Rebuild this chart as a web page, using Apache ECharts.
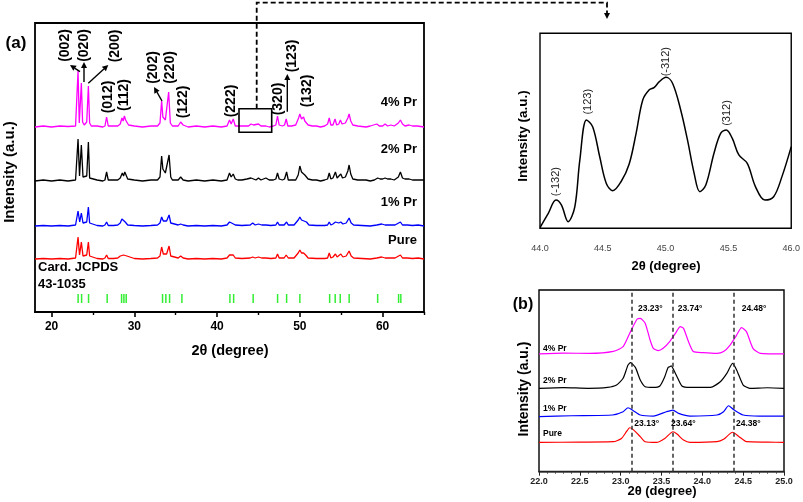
<!DOCTYPE html>
<html><head><meta charset="utf-8">
<script src="https://cdn.jsdelivr.net/npm/echarts@6/dist/echarts.min.js"></script>
<style>html,body{margin:0;padding:0;background:#fff}#c{width:803px;height:502px}</style>
</head><body><div id="c"></div>
<script>
const FONT = 'Arial, "Liberation Sans", sans-serif';

// ---------- Panel (a): full XRD patterns, [2theta, intensity a.u.] ----------
const xrd4Pr = [[18,0],[19,1],[20,0],[21,1],[22,0.5],[22.9,1],[23.05,3],[23.2,56],[23.35,4],[23.45,6],[23.6,44],[23.75,5],[23.95,2],[24.25,5],[24.45,41],[24.6,4],[24.8,1],[25.5,1],[26.2,0],[26.45,1],[26.65,10],[26.85,1],[27.5,1],[28.0,1],[28.3,3],[28.5,9],[28.65,6],[28.8,11],[28.95,7],[29.1,8],[29.3,2],[30,1],[31,0],[32,1],[32.8,1],[33.1,4],[33.3,26],[33.45,10],[33.6,9],[33.75,7],[33.9,9],[34.15,35],[34.35,4],[34.6,1],[35.3,1],[35.6,5],[35.9,2],[36.5,0],[37.5,1],[38.5,0],[39.5,1],[40.5,0],[41.2,1],[41.5,7],[41.7,3],[41.95,8],[42.2,1],[43,1],[43.8,1],[44.1,3],[44.4,2],[44.6,0],[45,3],[45.3,1],[45.5,3],[45.9,1],[46.3,0],[46.8,1],[47.1,2],[47.3,11],[47.5,2],[47.9,1],[48.15,2],[48.35,8],[48.55,1],[49,1],[49.5,2],[49.85,9],[50.0,13],[50.2,8],[50.45,10],[50.6,6],[50.8,7],[51,2],[51.5,1],[52,1],[52.5,0],[53,1],[53.35,3],[53.55,9],[53.75,2],[54.0,2],[54.25,8],[54.45,2],[54.7,3],[54.9,7],[55.1,3],[55.5,4],[55.8,9],[55.95,13],[56.15,6],[56.4,2],[57,1],[58,0],[58.5,1],[59.3,3],[59.6,1],[60,1],[60.3,3],[60.6,1],[61,2],[61.4,1],[61.9,4],[62.15,7],[62.4,3],[62.7,1],[63.2,2],[63.6,1],[64.2,1],[65,0]];
const xrd2Pr = [[18,0],[19,1],[20,0],[21,1],[22,0],[22.9,1],[23.05,3],[23.2,42],[23.38,5],[23.6,36],[23.8,4],[24.0,2],[24.25,5],[24.45,39],[24.6,3],[24.8,1],[25.5,1],[26.2,0],[26.45,1],[26.65,9],[26.85,1],[27.5,1],[28,1],[28.3,3],[28.55,8],[28.7,5],[28.85,9],[29.0,6],[29.2,2],[30,1],[31,0],[32,1],[32.8,1],[33.1,4],[33.3,25],[33.45,12],[33.6,14],[33.75,8],[33.95,10],[34.2,26],[34.4,4],[34.6,1],[35.3,1],[35.6,4],[35.9,1],[36.5,0],[37.5,1],[38.5,0],[39.5,1],[40.5,0],[41.2,1],[41.5,8],[41.7,4],[41.95,7],[42.2,2],[42.5,1],[43,1],[43.6,2],[44.1,3],[44.4,2],[44.7,1],[45,3],[45.3,1],[45.6,2],[45.9,3],[46.3,1],[46.8,1],[47.1,2],[47.3,8],[47.5,2],[47.9,1],[48.15,2],[48.4,9],[48.6,1],[49,1],[49.5,1],[49.8,6],[50.0,15],[50.2,9],[50.4,10],[50.6,6],[50.8,7],[51,2],[51.5,1],[52,1],[52.5,0],[53,1],[53.35,2],[53.55,8],[53.75,2],[54.0,3],[54.3,9],[54.5,3],[54.7,4],[54.95,7],[55.15,3],[55.5,4],[55.8,10],[55.95,16],[56.15,7],[56.4,2],[57,1],[58,1],[58.5,0],[59.0,1],[59.4,3],[59.7,2],[60,2],[60.3,3],[60.6,2],[61,2],[61.4,1],[61.9,4],[62.15,9],[62.4,3],[62.7,2],[63.2,2],[63.6,1],[64.2,1],[65,1]];
const xrd1Pr = [[18,0],[19,0.5],[20,0],[21,0.5],[22,0],[22.9,1],[23.05,2],[23.2,15],[23.4,4],[23.6,13],[23.8,3],[24.0,1],[24.25,4],[24.45,19],[24.6,3],[24.8,1],[25.5,0.5],[26.2,0],[26.45,1],[26.65,4],[26.85,0.5],[27.5,0.5],[28.0,1],[28.3,3],[28.5,7],[28.7,5],[28.9,4],[29.2,1],[30,0.5],[31,0],[32,0.5],[32.8,1],[33.1,3],[33.3,9],[33.5,5],[33.7,6],[33.9,5],[34.2,11],[34.4,3],[34.6,1],[35.3,1],[35.6,2],[35.9,1],[36.5,0],[37.5,0.5],[38.5,0],[39.5,0.5],[40.5,0],[41.2,1],[41.5,4],[41.75,3],[41.95,4],[42.2,1],[43,0.5],[44.0,1],[44.3,3],[44.6,1],[45,2],[45.4,1],[45.9,1],[46.5,0.5],[47.1,1],[47.3,4],[47.5,1],[48.1,1],[48.4,4],[48.6,1],[49.3,1],[49.8,6],[50.0,9],[50.2,6],[50.5,5],[50.8,4],[51.1,1],[52,0.5],[53,0.5],[53.35,1],[53.55,4],[53.75,1],[54.0,2],[54.3,4],[54.5,2],[54.7,3],[54.95,4],[55.2,2],[55.6,3],[55.95,8],[56.2,3],[56.5,1],[57.5,0.5],[58.5,0],[59.3,1],[59.9,2],[60.3,1],[61,1],[61.5,1],[62.15,4],[62.4,1],[63,1],[63.6,0.5],[64.3,1],[65,0]];
const xrdPure = [[18,0],[19,0.5],[20,0],[21,0.5],[22,0],[22.9,1],[23.05,2],[23.2,22],[23.38,4],[23.6,17],[23.8,3],[24.0,1],[24.25,4],[24.45,17],[24.6,3],[24.8,1],[25.5,0.5],[26.2,0],[26.45,1],[26.65,4],[26.85,0.5],[27.5,0.5],[28.0,1],[28.3,3],[28.5,5],[28.7,4],[28.9,5],[29.1,3],[29.3,1],[30,0.5],[31,0],[32,0.5],[32.8,1],[33.1,3],[33.3,12],[33.5,5],[33.7,6],[33.9,5],[34.2,13],[34.4,3],[34.6,1],[35.3,1],[35.6,3],[35.9,1],[36.5,0],[37.5,0.5],[38.5,0],[39.5,0.5],[40.5,0],[41.2,1],[41.5,4],[41.7,3],[41.95,4],[42.2,1],[43,0.5],[44.0,1],[44.3,2],[44.6,1],[45,2],[45.4,1],[45.9,1],[46.5,0.5],[47.1,1],[47.3,5],[47.5,1],[48.1,1],[48.35,4],[48.6,1],[49.3,1],[49.8,6],[50.0,9],[50.2,6],[50.45,6],[50.7,4],[51.0,1],[52,0.5],[53,0.5],[53.35,1],[53.55,6],[53.75,1],[54.0,2],[54.3,5],[54.5,2],[54.7,3],[54.95,5],[55.2,2],[55.6,3],[55.95,8],[56.2,3],[56.5,1],[57.5,0.5],[58.5,0],[59.3,1],[59.9,2],[60.3,1],[61,1],[61.5,1],[62.15,4],[62.4,1],[63,1],[63.6,0.5],[64.3,1],[65,0]];
const seriesNamesA = ['4% Pr', '2% Pr', '1% Pr', 'Pure'];
const stackOffsetsA = [185, 131, 86, 53];
const jcpdsPeaks = [23.21,23.63,24.47,26.72,28.46,28.74,29.02,33.41,33.81,34.26,35.75,41.55,42.0,44.36,47.31,48.4,50.0,53.6,54.27,54.88,55.96,59.4,61.93,62.2];
const majorTicksA = [20, 30, 40, 50, 60];
const minorTicksA = [25, 35, 45, 55, 65];

// ---------- Inset: 44-46 deg zoom of 4% Pr ----------
const insetCurve = [[44.0,0.3],[44.066,7.7],[44.127,14.5],[44.17,12],[44.224,3.4],[44.277,11],[44.317,35],[44.37,55.6],[44.42,52],[44.475,36.8],[44.528,23],[44.58,19.3],[44.646,24],[44.71,33],[44.765,48.7],[44.818,65.8],[44.87,71],[44.91,72.3],[44.95,75.2],[45.003,77.4],[45.055,74.4],[45.12,60.7],[45.174,45.3],[45.227,28.2],[45.272,18.8],[45.32,22.2],[45.385,38.5],[45.438,48.7],[45.483,50.4],[45.53,46.2],[45.583,37.6],[45.65,33.3],[45.715,21.4],[45.79,14.5],[45.86,16.2],[45.926,26.5],[46.0,41.9]];

// ---------- Panel (b): 22-25 deg ----------
const b4Pr = [[22.0,64.8],[22.3,65.3],[22.62,65.1],[22.91,66.2],[23.03,68.8],[23.11,76.1],[23.2,83.9],[23.24,84.4],[23.3,81.7],[23.36,72.5],[23.4,67.9],[23.46,66.6],[23.52,67.9],[23.6,71.6],[23.67,76.1],[23.73,79.8],[23.77,78.9],[23.83,71.6],[23.89,66.1],[24.01,65.5],[24.18,65.1],[24.26,66.1],[24.34,69.7],[24.42,75.2],[24.48,79.3],[24.54,77.1],[24.62,67.9],[24.71,65.1],[25.0,64.8]];
const b2Pr = [[22.0,45.9],[22.3,46.3],[22.6,45.9],[22.84,46.4],[22.95,47.7],[23.03,51.4],[23.09,58.7],[23.12,60.0],[23.18,57.4],[23.24,50.5],[23.3,46.8],[23.4,46.4],[23.48,47.2],[23.54,52.3],[23.58,57.4],[23.6,57.8],[23.62,58.2],[23.64,56.9],[23.69,52.3],[23.75,47.2],[23.85,46.4],[24.1,46.4],[24.22,49.5],[24.3,54.1],[24.37,59.6],[24.42,56.0],[24.5,47.7],[24.58,45.9],[24.8,46.2],[25.0,45.9]];
const b1Pr = [[22.0,30.3],[22.4,30.8],[22.9,31.2],[23.03,33.0],[23.09,35.2],[23.155,33.6],[23.24,31.2],[23.4,30.6],[23.56,33.0],[23.64,33.9],[23.71,32.1],[23.85,30.6],[24.18,31.2],[24.26,33.0],[24.32,36.3],[24.38,34.3],[24.5,31.2],[24.7,30.6],[25.0,30.6]];
const bPure = [[22.0,16.1],[22.5,16.3],[22.91,16.5],[23.01,18.3],[23.07,22.0],[23.11,24.2],[23.15,23.3],[23.24,19.3],[23.3,16.5],[23.44,16.1],[23.54,18.3],[23.64,22.0],[23.69,20.7],[23.77,17.4],[23.85,16.1],[24.18,16.5],[24.26,17.8],[24.37,21.7],[24.45,19.3],[24.54,16.5],[24.8,16.3],[25.0,16.1]];
const refLinesB = [23.13, 23.64, 24.38];
const topLabelsB = ['23.23°', '23.74°', '24.48°'];
const bottomLabelsB = ['23.13°', '23.64°', '24.38°'];

const colors = ['#ff00ff', '#000000', '#0000ff', '#ff0000'];

const chart = echarts.init(document.getElementById('c'), null, {renderer: 'canvas'});

function txt(t, x, y, size, o) {
  o = o || {};
  return {type: 'text', x: x, y: y, rotation: o.rot ? Math.PI / 2 : 0, z: 100,
    style: {text: t, x: 0, y: 0, font: (o.normal ? 'normal' : 'bold') + ' ' + size + 'px ' + FONT,
      fill: o.color || '#000', align: o.align || 'center', verticalAlign: 'middle'}};
}
function arrow(x1, y1, x2, y2) {
  const a = Math.atan2(y2 - y1, x2 - x1), L = 6, W = 3;
  const bx = x2 - L * Math.cos(a), by = y2 - L * Math.sin(a);
  const px = -Math.sin(a) * W, py = Math.cos(a) * W;
  return [
    {type: 'line', z: 100, shape: {x1: x1, y1: y1, x2: bx, y2: by}, style: {stroke: '#000', lineWidth: 1.4}},
    {type: 'polygon', z: 100, shape: {points: [[x2, y2], [bx + px, by + py], [bx - px, by - py]]}, style: {fill: '#000'}}
  ];
}

const seriesA = [xrd4Pr, xrd2Pr, xrd1Pr, xrdPure].map((d, i) => ({
  type: 'line', name: seriesNamesA[i], xAxisIndex: 0, yAxisIndex: 0,
  data: d.map(p => [p[0], p[1] + stackOffsetsA[i]]),
  showSymbol: false, lineStyle: {color: colors[i], width: 1.3}, itemStyle: {color: colors[i]},
  animation: false, silent: true
}));

const jcpdsSeries = {
  type: 'custom', xAxisIndex: 0, yAxisIndex: 0, data: jcpdsPeaks.map(v => [v]), animation: false, silent: true,
  renderItem: function (params, api) {
    const p1 = api.coord([api.value(0), 9]);
    const p2 = api.coord([api.value(0), 18]);
    return {type: 'line', shape: {x1: p1[0], y1: p1[1], x2: p2[0], y2: p2[1]}, style: {stroke: '#33ee33', lineWidth: 1.5}};
  }
};

const insetSeries = {
  type: 'line', xAxisIndex: 2, yAxisIndex: 1, data: insetCurve, smooth: 0.35,
  showSymbol: false, lineStyle: {color: '#000', width: 1.5}, animation: false, silent: true
};

const seriesB = [b4Pr, b2Pr, b1Pr, bPure].map((d, i) => ({
  type: 'line', xAxisIndex: 3, yAxisIndex: 2, data: d, smooth: 0.2,
  showSymbol: false, lineStyle: {color: colors[i], width: 1.2}, animation: false, silent: true
}));
seriesB[3].markLine = {
  silent: true, symbol: 'none', animation: false, label: {show: false},
  lineStyle: {type: [4, 3], color: '#333', width: 1.5},
  data: refLinesB.map(v => ({xAxis: v}))
};

const gridCommon = {show: true, borderColor: '#000', backgroundColor: 'transparent', containLabel: false};

const graphics = [];
// panel (a) texts
graphics.push(txt('(a)', 16, 43, 17));
graphics.push(txt('Intensity (a.u.)', 10, 172, 15, {rot: true}));
graphics.push(txt('2θ (degree)', 230, 351, 14.5));
const labelYA = [102.7, 149.3, 202.7, 240];
seriesNamesA.forEach((n, i) => graphics.push(txt(n, 417, labelYA[i], 13, {align: 'right'})));
graphics.push(txt('Card. JCPDS', 38, 267.7, 13, {align: 'left'}));
graphics.push(txt('43-1035', 38, 284, 13, {align: 'left'}));
const hkl = [['(002)', 65.3, 45.5], ['(020)', 83.7, 45.5], ['(200)', 115, 46], ['(012)', 108, 97], ['(112)', 124.5, 95],
  ['(202)', 153, 67.5], ['(220)', 170.5, 67.5], ['(122)', 182.7, 102], ['(222)', 231, 101], ['(320)', 278.3, 99],
  ['(123)', 291.7, 56], ['(132)', 306.7, 91]];
hkl.forEach(h => graphics.push(txt(h[0], h[1], h[2], 14, {rot: true})));
[].concat(arrow(80, 71.7, 70, 65), arrow(84, 82, 84, 62), arrow(88.3, 83.3, 108.3, 65),
  arrow(162, 101, 154, 87), arrow(287.3, 111.7, 287.3, 74)).forEach(g => graphics.push(g));
graphics.push({type: 'rect', z: 100, shape: {x: 239, y: 108.7, width: 32.7, height: 23.6}, style: {fill: 'none', stroke: '#000', lineWidth: 1.6}});
graphics.push({type: 'polyline', z: 100, shape: {points: [[256.7, 108.7], [256.7, 2.7], [607, 2.7], [607, 13]]}, style: {stroke: '#000', lineWidth: 1.8, lineDash: [5, 3], fill: 'none'}});
graphics.push({type: 'polygon', z: 100, shape: {points: [[607, 19], [604, 13], [610, 13]]}, style: {fill: '#000'}});
// inset texts
graphics.push(txt('Intensity (a.u.)', 523.5, 136, 13.5, {rot: true}));
graphics.push(txt('2θ (degree)', 666, 266.7, 13));
[['(-132)', 555.7, 181.7], ['(123)', 588.3, 101.7], ['(-312)', 665.7, 61.7], ['(312)', 726.7, 113]]
  .forEach(h => graphics.push(txt(h[0], h[1], h[2], 11, {rot: true, normal: true, color: '#222'})));
// panel (b) texts
graphics.push(txt('(b)', 523, 305, 16));
graphics.push(txt('Intensity (a.u.)', 524, 389, 14, {rot: true}));
graphics.push(txt('2θ (degree)', 662, 491.5, 13));
const labelYB = [348.3, 381, 408.3, 433.3];
seriesNamesA.forEach((n, i) => graphics.push(txt(n, 543, labelYB[i], 8.5, {align: 'left'})));
const topXB = [650.3, 690, 754], botXB = [646.7, 683.3, 748.3];
topLabelsB.forEach((t, i) => graphics.push(txt(t, topXB[i], 309, 8.5)));
bottomLabelsB.forEach((t, i) => graphics.push(txt(t, botXB[i], 423.3, 8.5)));

const option = {
  animation: false,
  backgroundColor: '#fff',
  textStyle: {fontFamily: FONT},
  grid: [
    Object.assign({left: 35, top: 23, width: 389, height: 289, borderWidth: 1.8}, gridCommon),
    Object.assign({left: 540, top: 33.3, width: 252.7, height: 195, borderWidth: 1.4}, gridCommon),
    Object.assign({left: 539, top: 290, width: 245, height: 181.7, borderWidth: 1.4, borderColor: '#222'}, gridCommon)
  ],
  xAxis: [
    {type: 'value', gridIndex: 0, min: 18, max: 65, position: 'bottom',
      axisLine: {show: true, lineStyle: {color: '#000', width: 1.8}},
      axisTick: {show: true, inside: false, length: 5, customValues: majorTicksA, lineStyle: {color: '#000', width: 1.6}},
      axisLabel: {show: true, customValues: majorTicksA, margin: 9, color: '#000', fontSize: 12, fontWeight: 'bold', fontFamily: FONT},
      splitLine: {show: false}},
    {type: 'value', gridIndex: 0, min: 18, max: 65, position: 'bottom',
      axisLine: {show: false},
      axisTick: {show: true, inside: false, length: 3, customValues: minorTicksA, lineStyle: {color: '#000', width: 1.4}},
      axisLabel: {show: false}, splitLine: {show: false}},
    {type: 'value', gridIndex: 1, min: 44, max: 46, interval: 0.5,
      axisLine: {show: false}, axisTick: {show: false},
      axisLabel: {margin: 16, color: '#444', fontSize: 9, fontFamily: FONT, formatter: v => v.toFixed(1)},
      splitLine: {show: false}},
    {type: 'value', gridIndex: 2, min: 22, max: 25, interval: 0.5,
      axisLine: {show: true, lineStyle: {color: '#222', width: 1.4}},
      axisTick: {show: true, inside: false, length: 4, lineStyle: {color: '#222'}},
      minorTick: {show: true, splitNumber: 5, length: 2, lineStyle: {color: '#444'}},
      axisLabel: {margin: 5, color: '#222', fontSize: 9, fontWeight: 'bold', fontFamily: FONT, formatter: v => v.toFixed(1)},
      splitLine: {show: false}}
  ],
  yAxis: [
    {type: 'value', gridIndex: 0, min: 0, max: 289, axisLine: {show: false}, axisTick: {show: false}, axisLabel: {show: false}, splitLine: {show: false}},
    {type: 'value', gridIndex: 1, min: 0, max: 100, axisLine: {show: false}, axisTick: {show: false}, axisLabel: {show: false}, splitLine: {show: false}},
    {type: 'value', gridIndex: 2, min: 0, max: 100, axisLine: {show: false}, axisTick: {show: false}, axisLabel: {show: false}, splitLine: {show: false}}
  ],
  series: seriesA.concat([jcpdsSeries, insetSeries]).concat(seriesB),
  graphic: {elements: graphics}
};
chart.setOption(option);
</script>
</body></html>
